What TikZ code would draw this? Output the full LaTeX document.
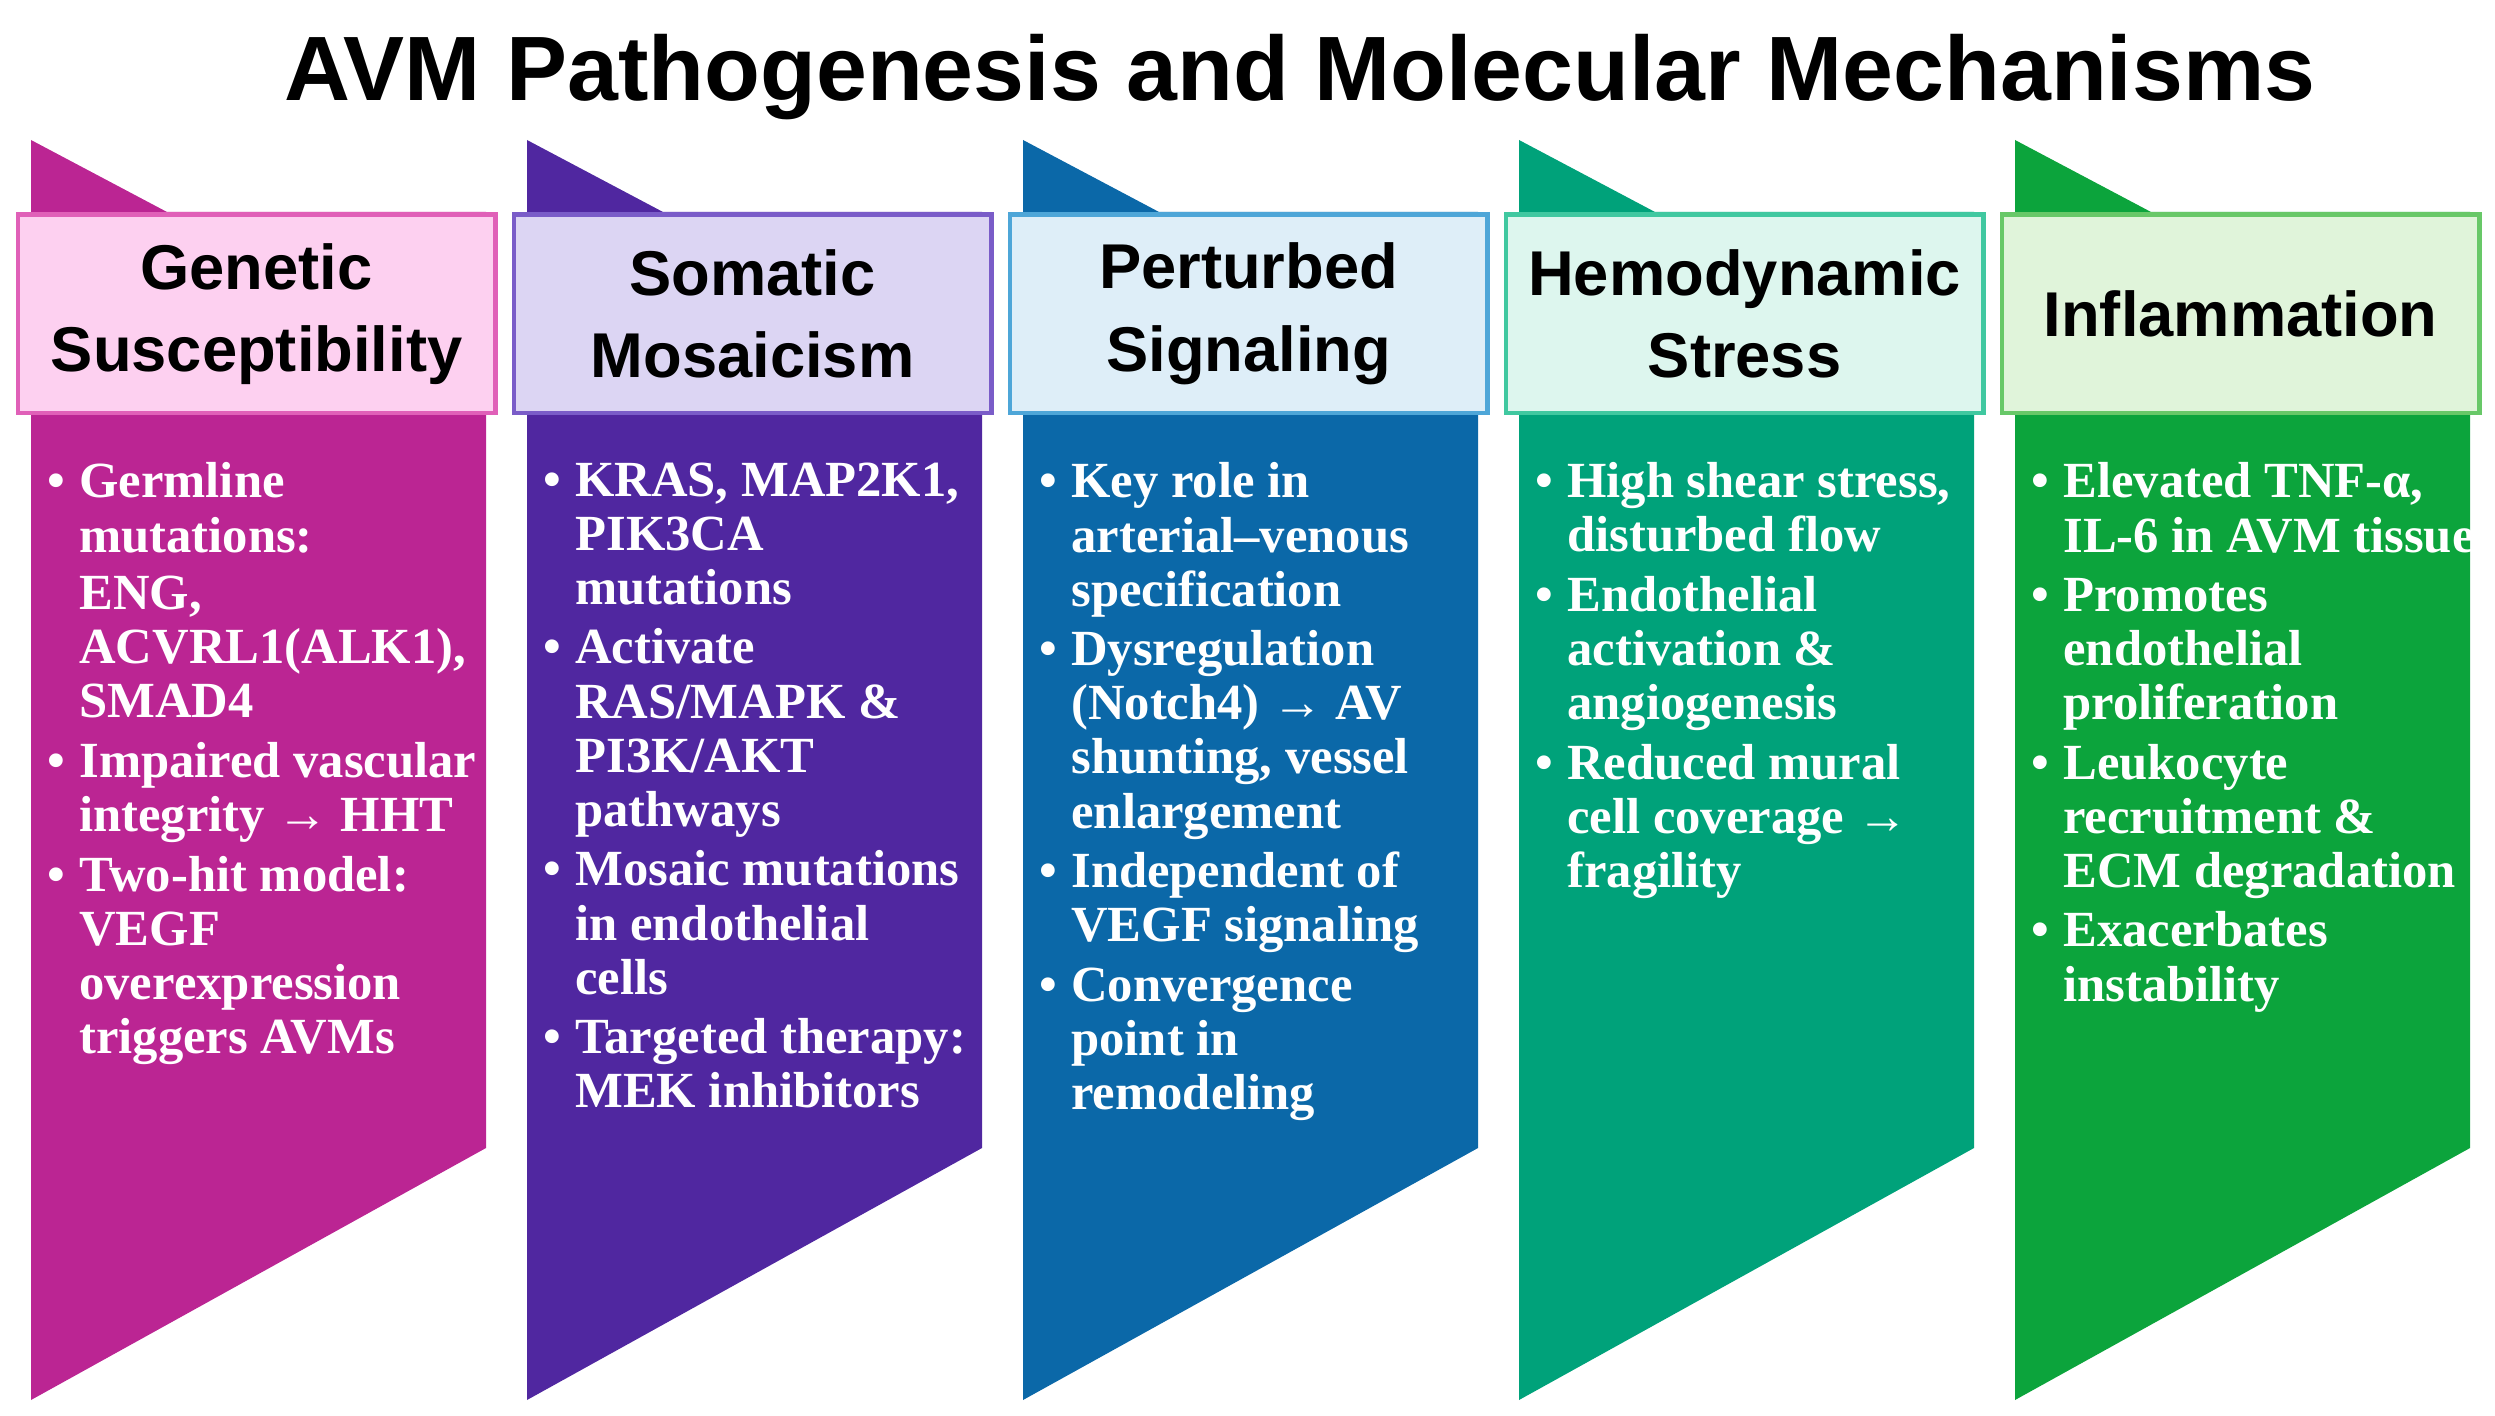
\documentclass[tikz,border=0pt]{standalone}
\usepackage{fontspec}
\setmainfont{Liberation Serif}
\newfontfamily\hdfont{Liberation Sans}
\begin{document}
\begin{tikzpicture}[x=0.01cm,y=-0.01cm,
  hdr/.style={draw, line width=1.2pt, minimum width=482*0.01cm-1.2pt, minimum height=203*0.01cm-1.2pt, anchor=north west, align=center, font=\hdfont\bfseries\fontsize{18}{23.5}\selectfont, text=black},
  body/.style={anchor=north west, inner sep=0pt, text=white, font=\bfseries\fontsize{14.4}{15.4}\selectfont, align=left}]
\useasboundingbox (0,0) rectangle (2495,1416);
\node[font=\hdfont\bfseries\fontsize{26}{30}\selectfont] (title) at (1300,77) {AVM Pathogenesis and Molecular Mechanisms};
\newcommand{\col}[7]{%
  \fill[#2] (#1,140) -- ({#1+136},212) -- ({#1+455},212) -- ({#1+455},1148) -- (#1,1400) -- cycle;
  \node[hdr, draw=#4, fill=#3] (h#7) at ({#1-16+0.6},212.5) {#5};
  \node[body] (b#7) at ({#1+16},462) {#6};
}
\definecolor{c1}{HTML}{BB2593}\definecolor{h1}{HTML}{FDD0F0}\definecolor{e1}{HTML}{E060B8}
\definecolor{c2}{HTML}{5027A0}\definecolor{h2}{HTML}{DCD5F3}\definecolor{e2}{HTML}{7A5CC8}
\definecolor{c3}{HTML}{0B68A8}\definecolor{h3}{HTML}{DEEEF8}\definecolor{e3}{HTML}{4EA6D8}
\definecolor{c4}{HTML}{00A27A}\definecolor{h4}{HTML}{DDF6EE}\definecolor{e4}{HTML}{40C8A0}
\definecolor{c5}{HTML}{0CA43C}\definecolor{h5}{HTML}{E0F4DA}\definecolor{e5}{HTML}{68C868}
\newcommand{\bl}{\makebox[9pt][l]{\textbullet}}
\newcommand{\ind}{\hspace*{9pt}}
\col{31}{c1}{h1}{e1}{Genetic\\Susceptibility}{%
\bl Germline\\\ind mutations:\\[1pt]\ind ENG,\\\ind ACVRL1(ALK1),\\\ind SMAD4\\[1.5pt]
\bl Impaired vascular\\\ind integrity → HHT\\[1.5pt]
\bl Two-hit model:\\\ind VEGF\\\ind overexpression\\\ind triggers AVMs}{1}
\col{527}{c2}{h2}{e2}{Somatic\\Mosaicism}{%
\bl KRAS, MAP2K1,\\\ind PIK3CA\\\ind mutations\\[1.5pt]
\bl Activate\\\ind RAS/MAPK \&\\\ind PI3K/AKT\\\ind pathways\\[1.5pt]
\bl Mosaic mutations\\\ind in endothelial\\\ind cells\\[1.5pt]
\bl Targeted therapy:\\\ind MEK inhibitors}{2}
\col{1023}{c3}{h3}{e3}{Perturbed\\Signaling}{%
\bl Key role in\\\ind arterial–venous\\\ind specification\\[1.5pt]
\bl Dysregulation\\\ind (Notch4) → AV\\\ind shunting, vessel\\\ind enlargement\\[1.5pt]
\bl Independent of\\\ind VEGF signaling\\[1.5pt]
\bl Convergence\\\ind point in\\\ind remodeling}{3}
\col{1519}{c4}{h4}{e4}{Hemodynamic\\Stress}{%
\bl High shear stress,\\\ind disturbed flow\\[1.5pt]
\bl Endothelial\\\ind activation \&\\\ind angiogenesis\\[1.5pt]
\bl Reduced mural\\\ind cell coverage →\\\ind fragility}{4}
\col{2015}{c5}{h5}{e5}{Inflammation}{%
\bl Elevated TNF-α,\\\ind IL-6 in AVM tissue\\[1.5pt]
\bl Promotes\\\ind endothelial\\\ind proliferation\\[1.5pt]
\bl Leukocyte\\\ind recruitment \&\\\ind ECM degradation\\[1.5pt]
\bl Exacerbates\\\ind instability}{5}
\end{tikzpicture}
\end{document}
